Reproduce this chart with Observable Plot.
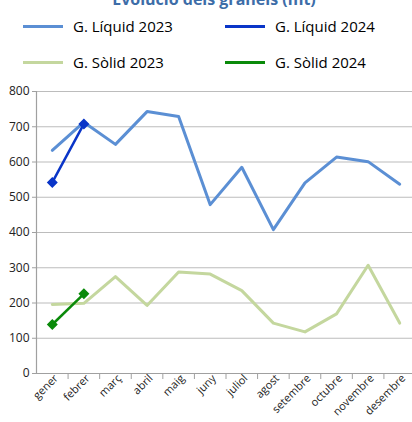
<!DOCTYPE html>
<html><head><meta charset="utf-8">
<script src="https://cdn.jsdelivr.net/npm/d3@7"></script>
<script src="https://cdn.jsdelivr.net/npm/@observablehq/plot@0.6"></script>
<style>
body{margin:0;background:#fff;font-family:"Open Sans",sans-serif;}
#wrap{position:relative;width:412px;height:422px;overflow:hidden;}
#title{position:absolute;top:-12px;left:0;width:428px;text-align:center;font-weight:bold;font-size:16px;color:#3D6DA8;}
.lg{position:absolute;font-size:15px;color:#000;display:flex;align-items:center;}
.lg span.sw{display:inline-block;width:40px;height:3px;margin-right:10px;}
#chart{position:absolute;top:80px;left:0;}
</style></head><body>
<div id="wrap">
<div id="title">Evolució dels granels (mt)</div>
<div id="legend"></div>
<div id="chart"></div>
</div>
<script>
const months = ["gener","febrer","març","abril","maig","juny","juliol","agost","setembre","octubre","novembre","desembre"];
const liquid2023 = [633,713,650,743,729,479,585,408,541,614,601,537];
const liquid2024 = [542,708];
const solid2023 = [196,199,275,193,288,282,235,143,118,169,307,143];
const solid2024 = [139,226];
const yTicks = [0,100,200,300,400,500,600,700,800];
const seriesNames = ["G. Líquid 2023","G. Líquid 2024","G. Sòlid 2023","G. Sòlid 2024"];
const colors = ["#5B8FD4","#0A35C8","#C4D79E","#0A8A0A"];

// legend
const legendPos = [[23,16],[225,16],[23,52],[225,52]];
const lg = document.getElementById("legend");
seriesNames.forEach((n,i)=>{
  const d = document.createElement("div");
  d.className="lg";
  d.style.left=legendPos[i][0]+"px"; d.style.top=legendPos[i][1]+"px";
  d.innerHTML=`<span class="sw" style="background:${colors[i]}"></span>${n}`;
  lg.appendChild(d);
});

const toRows = (vals, name) => vals.map((v,i)=>({month:months[i], value:v, series:name}));
const l23 = toRows(liquid2023, seriesNames[0]);
const l24 = toRows(liquid2024, seriesNames[1]);
const s23 = toRows(solid2023, seriesNames[2]);
const s24 = toRows(solid2024, seriesNames[3]);

const width = 412, ml = 36, mr = -3;
const bw = (width - ml - mr) / months.length;

const plot = Plot.plot({
  width, height: 342,
  marginLeft: ml, marginRight: mr, marginTop: 11, marginBottom: 49,
  style:{fontFamily:"Open Sans, sans-serif", fontSize:"11px", color:"#222", overflow:"visible"},
  x:{type:"band", domain: months, padding:0, round:false, label:null},
  y:{domain:[0,800], label:null},
  marks:[
    Plot.gridY(yTicks.filter(d=>d>0), {stroke:"#bcbcbc", strokeOpacity:1, strokeWidth:1.2}),
    Plot.ruleY([0], {stroke:"#a0a0a0", strokeWidth:1.2}),
    Plot.ruleX([months[0]], {dx:-bw/2, y1:0, y2:800, stroke:"#a0a0a0", strokeWidth:1.2}),
    Plot.axisY({ticks: yTicks, tickSize:4, tickPadding:3, stroke:"#a0a0a0", fontSize:12, color:"#222"}),
    Plot.axisX({tickSize:6, text:null, dx: bw/2, stroke:"#a0a0a0"}),
    Plot.axisX({tickSize:0, tickRotate:-45, tickPadding:3, fontSize:11, dx:4}),
    Plot.line(l23, {x:"month", y:"value", stroke:colors[0], strokeWidth:3}),
    Plot.line(s23, {x:"month", y:"value", stroke:colors[2], strokeWidth:3}),
    Plot.line(l24, {x:"month", y:"value", stroke:colors[1], strokeWidth:2.5}),
    Plot.dot(l24, {x:"month", y:"value", symbol:"diamond2", r:4, fill:colors[1], stroke:colors[1]}),
    Plot.line(s24, {x:"month", y:"value", stroke:colors[3], strokeWidth:2.5}),
    Plot.dot(s24, {x:"month", y:"value", symbol:"diamond2", r:4, fill:colors[3], stroke:colors[3]})
  ]
});
document.getElementById("chart").appendChild(plot);
</script>
</body></html>
